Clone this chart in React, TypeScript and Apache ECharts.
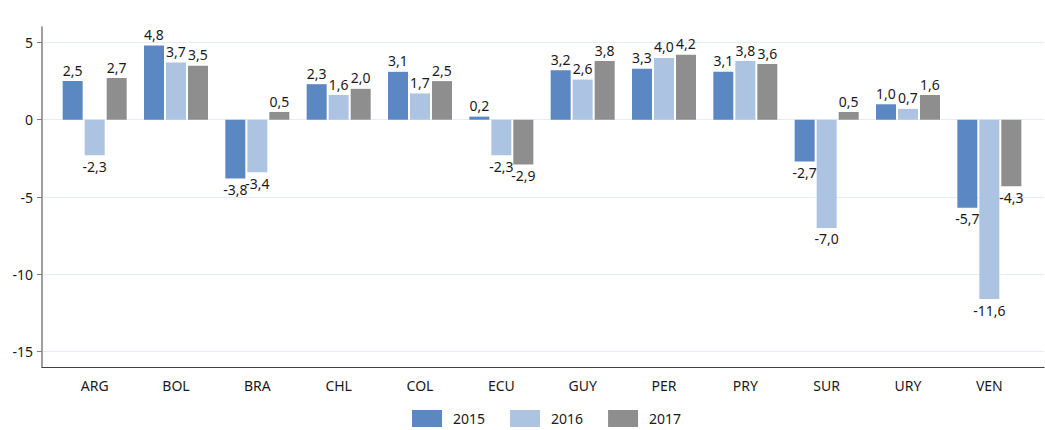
import React, { useEffect, useRef } from "react";
import * as echarts from "echarts";

const categories = ["ARG", "BOL", "BRA", "CHL", "COL", "ECU", "GUY", "PER", "PRY", "SUR", "URY", "VEN"];
const values2015 = [2.5, 4.8, -3.8, 2.3, 3.1, 0.2, 3.2, 3.3, 3.1, -2.7, 1.0, -5.7];
const values2016 = [-2.3, 3.7, -3.4, 1.6, 1.7, -2.3, 2.6, 4.0, 3.8, -7.0, 0.7, -11.6];
const values2017 = [2.7, 3.5, 0.5, 2.0, 2.5, -2.9, 3.8, 4.2, 3.6, 0.5, 1.6, -4.3];
const seriesNames = ["2015", "2016", "2017"];
const yTicks = [-15, -10, -5, 0, 5];
const yMin = -16;
const yMax = 6;

const colors = ["#5B87C3", "#ADC3E2", "#8E8E8E"];
const FONT = "'Noto Sans', 'Open Sans', sans-serif";

const fmt = (v: number) => v.toFixed(1).replace(".", ",");

export default function App() {
  const ref = useRef<HTMLDivElement>(null);
  useEffect(() => {
    if (!ref.current) return;
    const chart = echarts.init(ref.current, undefined, { renderer: "svg" });
    const mk = (name: string, data: number[], color: string) => ({
      name,
      type: "bar",
      xAxisIndex: 1,
      yAxisIndex: 1,
      barWidth: 20,
      barGap: "10%",
      itemStyle: { color },
      data: data.map((v) => ({
        value: v,
        label: { position: v >= 0 ? "top" : "bottom" },
      })),
      label: {
        show: true,
        fontFamily: FONT,
        fontSize: 14,
        color: "#1a1a1a",
        distance: 4,
        formatter: (p: any) => fmt(p.value),
      },
    });
    chart.setOption({
      animation: false,
      color: colors,
      grid: [
        { left: 42, right: 1, top: 27, bottom: 63 },
        { left: 54, right: 15, top: 27, bottom: 63 },
      ],
      xAxis: [
        {
          type: "value",
          gridIndex: 0,
          min: 0,
          max: 1,
          axisLine: { show: true, onZero: false, lineStyle: { color: "#404040", width: 1.2 } },
          axisTick: { show: false },
          axisLabel: { show: false },
          splitLine: { show: false },
        },
        {
          type: "category",
          gridIndex: 1,
          data: categories,
          axisLine: { show: false },
          axisTick: { show: false },
          axisLabel: { fontFamily: FONT, fontSize: 14, color: "#1a1a1a", margin: 11 },
        },
      ],
      yAxis: [
        {
          type: "value",
          gridIndex: 0,
          min: yMin,
          max: yMax,
          axisLine: { show: true, lineStyle: { color: "#7f7f7f", width: 1.5 } },
          axisTick: { show: true, length: 5, customValues: yTicks, lineStyle: { color: "#7f7f7f" } },
          axisLabel: { customValues: yTicks, fontFamily: FONT, fontSize: 14, color: "#1a1a1a", margin: 9 },
          splitLine: { show: true, lineStyle: { color: "#e4edf2", width: 1 } },
        },
        {
          type: "value",
          gridIndex: 1,
          min: yMin,
          max: yMax,
          show: false,
          splitLine: { show: false },
        },
      ],
      legend: {
        top: 410,
        left: 412,
        padding: 0,
        itemWidth: 30,
        itemHeight: 17,
        itemGap: 25,
        icon: "rect",
        textStyle: { fontFamily: FONT, fontSize: 14, lineHeight: 17, color: "#1a1a1a", padding: [0, 0, 0, 6] },
        data: seriesNames,
      },
      series: [
        mk(seriesNames[0], values2015, colors[0]),
        mk(seriesNames[1], values2016, colors[1]),
        mk(seriesNames[2], values2017, colors[2]),
      ],
    });
    return () => chart.dispose();
  }, []);
  return (
    <div
      ref={ref}
      style={{ position: "fixed", left: 0, top: 0, width: 1045, height: 430, background: "#fff" }}
    />
  );
}
